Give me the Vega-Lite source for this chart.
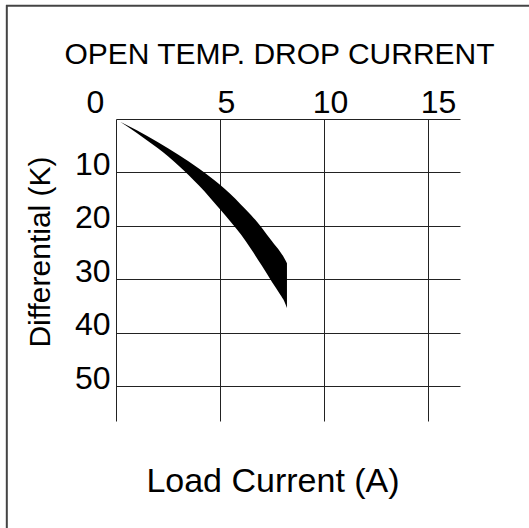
{
  "$schema": "https://vega.github.io/schema/vega-lite/v6.json",
  "width": 344,
  "height": 302,
  "autosize": {"type": "none"},
  "padding": {"left": 116, "top": 119, "right": 69, "bottom": 107},
  "background": "white",
  "config": {"view": {"stroke": null}, "font": "Liberation Sans"},
  "data": {"values": [
    {"current": 0.2, "dt_min": 0.5, "dt_max": 0.5},
    {"current": 1.0, "dt_min": 2.1, "dt_max": 2.6},
    {"current": 2.0, "dt_min": 4.3, "dt_max": 5.45},
    {"current": 3.0, "dt_min": 6.7, "dt_max": 8.7},
    {"current": 4.0, "dt_min": 9.3, "dt_max": 12.5},
    {"current": 5.0, "dt_min": 12.3, "dt_max": 16.9},
    {"current": 5.5, "dt_min": 14.05, "dt_max": 19.2},
    {"current": 6.0, "dt_min": 16.0, "dt_max": 21.6},
    {"current": 6.5, "dt_min": 18.0, "dt_max": 24.4},
    {"current": 7.0, "dt_min": 20.3, "dt_max": 27.4},
    {"current": 7.5, "dt_min": 22.9, "dt_max": 30.5},
    {"current": 7.9, "dt_min": 24.9, "dt_max": 32.9},
    {"current": 8.1, "dt_min": 26.1, "dt_max": 34.2},
    {"current": 8.22, "dt_min": 27.0, "dt_max": 35.4}
  ]},
  "layer": [
    {
      "mark": {"type": "area", "color": "black", "interpolate": "monotone"},
      "encoding": {
        "x": {
          "field": "current", "type": "quantitative",
          "scale": {"domain": [0, 16.54], "nice": false, "zero": false},
          "axis": {
            "orient": "top", "values": [0, 5, 10, 15],
            "grid": true, "gridColor": "#222", "gridWidth": 1, "gridOpacity": 1,
            "domain": false, "ticks": false, "tickSize": 0,
            "labelFont": "Liberation Sans", "labelFontSize": 32, "labelColor": "black",
            "labelBaseline": "alphabetic", "labelPadding": 7, "labelFlush": false, "labelOverlap": false,
            "labelOffset": {"condition": [
              {"test": "datum.value == 0", "value": -21},
              {"test": "datum.value == 15", "value": 10}
            ], "value": 6},
            "title": "OPEN TEMP. DROP CURRENT",
            "titleFont": "Liberation Sans", "titleFontSize": 30, "titleFontWeight": "normal", "titleColor": "black",
            "titleX": 163, "titleY": -56, "titleBaseline": "alphabetic", "titleAlign": "center", "titleAngle": 0
          }
        },
        "y": {
          "field": "dt_min", "type": "quantitative",
          "scale": {"domain": [0, 56.55], "reverse": true, "nice": false, "zero": false},
          "axis": {
            "values": [0, 10, 20, 30, 40, 50],
            "labelExpr": "datum.value == 0 ? '' : datum.label",
            "grid": true, "gridColor": "#222", "gridWidth": 1, "gridOpacity": 1,
            "domain": false, "ticks": false, "tickSize": 0,
            "labelFont": "Liberation Sans", "labelFontSize": 32, "labelColor": "black",
            "labelBaseline": "middle", "labelPadding": 6, "labelOffset": -8, "labelFlush": false, "labelOverlap": false,
            "title": "Differential (K)",
            "titleFont": "Liberation Sans", "titleFontSize": 30, "titleFontWeight": "normal", "titleColor": "black",
            "titleX": -67, "titleY": 132.5, "titleAngle": -90, "titleBaseline": "alphabetic", "titleAlign": "center"
          }
        },
        "y2": {"field": "dt_max"}
      }
    },
    {
      "data": {"values": [{}]},
      "mark": {"type": "rule", "color": "#444", "strokeWidth": 2},
      "encoding": {
        "x": {
          "datum": -5.29, "type": "quantitative",
          "scale": {"domain": [0, 16.54], "nice": false, "zero": false},
          "axis": {
            "orient": "bottom", "labels": false, "ticks": false, "domain": false, "grid": false,
            "title": "Load Current (A)",
            "titleFont": "Liberation Sans", "titleFontSize": 34, "titleFontWeight": "normal", "titleColor": "black",
            "titleX": 156.5, "titleY": 70, "titleBaseline": "alphabetic", "titleAlign": "center"
          }
        },
        "x2": {"datum": 19.9},
        "y": {"datum": -21.2, "type": "quantitative", "scale": {"domain": [0, 56.55], "reverse": true, "nice": false, "zero": false}}
      }
    },
    {
      "data": {"values": [{}]},
      "mark": {"type": "rule", "color": "#444", "strokeWidth": 2},
      "encoding": {
        "x": {"datum": -5.25, "type": "quantitative", "scale": {"domain": [0, 16.54], "nice": false, "zero": false}, "axis": null},
        "y": {"datum": -21.3, "type": "quantitative", "scale": {"domain": [0, 56.55], "reverse": true, "nice": false, "zero": false}},
        "y2": {"datum": 76.6}
      }
    }
  ],
  "resolve": {"axis": {"x": "independent"}}
}
